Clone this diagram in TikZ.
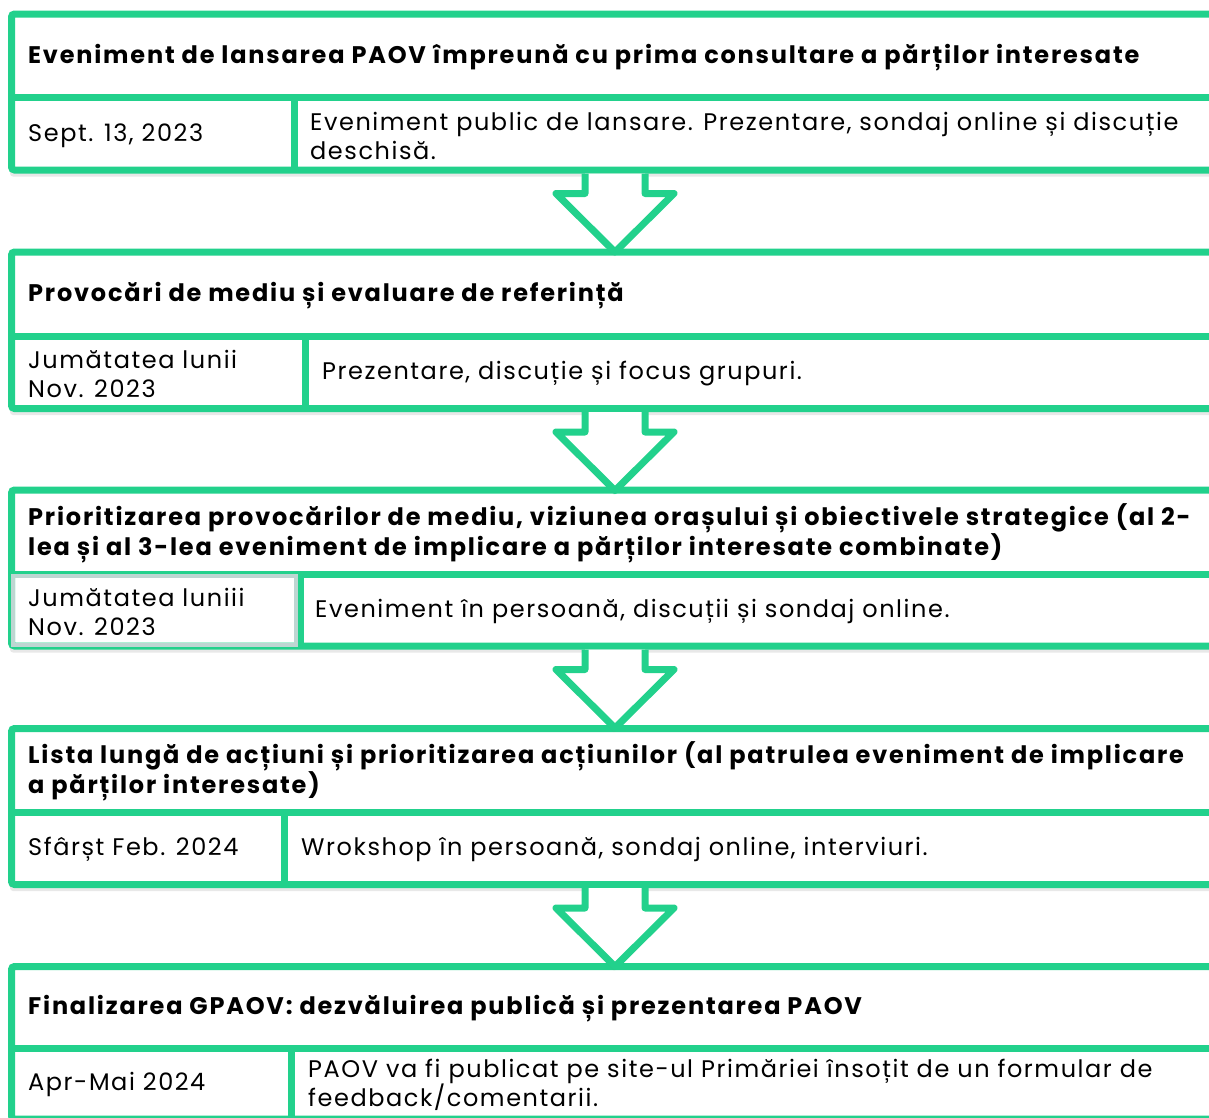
\documentclass[tikz,border=0pt]{standalone}
\usepackage{fontspec}
\setmainfont{Poppins}[LetterSpace=6.5, BoldFeatures={LetterSpace=7.5}]
\usetikzlibrary{shadows}
\definecolor{paovgreen}{RGB}{34,209,140}
\definecolor{cellgray}{RGB}{190,214,210}

\begin{document}
\begin{tikzpicture}[x=1pt, y=-1pt,
        frame/.style={draw=paovgreen, fill=white, line width=7pt, rounded corners=3pt,
            drop shadow={shadow xshift=-1.5pt, shadow yshift=-6.5pt, opacity=.18}},
        rule/.style={draw=paovgreen, line width=7pt},
        title/.style={anchor=west, inner sep=0pt, align=left, font=\bfseries\fontsize{24}{29}\selectfont},
        cell/.style={anchor=west, inner sep=0pt, align=left, font=\fontsize{24}{29}\selectfont},
        downarrow/.style={draw=paovgreen, fill=white, line width=7pt, line join=round,
            drop shadow={shadow xshift=-1pt, shadow yshift=-4pt, opacity=.15}}]
    \useasboundingbox (0,0) rectangle (1209,1117);
    % block 1
    \draw[frame] (11.5,14) rectangle (1240,170);
    \draw[rule] (11.5,97.5) -- ++(1230,0) (294.5,97.5) -- ++(0,72.5);
    \node[title] (title1) at (28,57.5) {Eveniment de lansarea PAOV împreună cu prima consultare a părților interesate};
    \node[cell] (date1) at (28,135.5) {Sept. 13, 2023};
    \node[cell] (desc1) at (310,135.5) {Eveniment public de lansare. Prezentare, sondaj online și discuție\\deschisă.};
    \coordinate (out1) at (615,170);
    % block 2
    \draw[frame] (11.5,252) rectangle (1240,408.5);
    \draw[rule] (11.5,336) -- ++(1230,0) (305.5,336) -- ++(0,72.5);
    \node[title] (title2) at (28,296) {Provocări de mediu și evaluare de referință};
    \node[cell] (date2) at (28,373.5) {Jumătatea lunii\\Nov. 2023};
    \node[cell] (desc2) at (322,373.5) {Prezentare, discuție și focus grupuri.};
    \coordinate (out2) at (615,408.5);
    % block 3
    \draw[frame] (11.5,490) rectangle (1240,646);
    \draw[rule] (11.5,574) -- ++(1230,0) (300,574) -- ++(0,72);
    \draw[cellgray, line width=4pt] (13,575.5) rectangle (296,645);
    \node[title] (title3) at (28,533) {Prioritizarea provocărilor de mediu, viziunea orașului și obiectivele strategice (al 2-\\lea și al 3-lea eveniment de implicare a părților interesate combinate)};
    \node[cell] (date3) at (28,611.5) {Jumătatea luniii\\Nov. 2023};
    \node[cell] (desc3) at (315,611.5) {Eveniment în persoană, discuții și sondaj online.};
    \coordinate (out3) at (615,646);
    % block 4
    \draw[frame] (11.5,728.5) rectangle (1240,884.5);
    \draw[rule] (11.5,812.5) -- ++(1230,0) (284.5,812.5) -- ++(0,72);
    \node[title] (title4) at (28,771.5) {Lista lungă de acțiuni și prioritizarea acțiunilor (al patrulea eveniment de implicare\\a părților interesate)};
    \node[cell] (date4) at (28,849.5) {Sfârșt Feb. 2024};
    \node[cell] (desc4) at (301,849.5) {Wrokshop în persoană, sondaj online, interviuri.};
    \coordinate (out4) at (615,884.5);
    % block 5
    \draw[frame] (11.5,966.5) rectangle (1240,1119);
    \draw[rule] (11.5,1048) -- ++(1230,0) (291.5,1048) -- ++(0,72);
    \node[title] (title5) at (28,1009) {Finalizarea GPAOV: dezvăluirea publică și prezentarea PAOV};
    \node[cell] (date5) at (28,1084.5) {Apr-Mai 2024};
    \node[cell] (desc5) at (308,1084.5) {PAOV va fi publicat pe site-ul Primăriei însoțit de un formular de\\feedback/comentarii.};
    % arrows between the blocks
    \draw[downarrow] ([shift={(-30,3.5)}]out1) |- ++(-29,20) -- ++(59,58.5) -- ++(59,-58.5) -| ([shift={(30,3.5)}]out1);
    \draw[downarrow] ([shift={(-30,3.5)}]out2) |- ++(-29,20) -- ++(59,58.5) -- ++(59,-58.5) -| ([shift={(30,3.5)}]out2);
    \draw[downarrow] ([shift={(-30,3.5)}]out3) |- ++(-29,20) -- ++(59,58.5) -- ++(59,-58.5) -| ([shift={(30,3.5)}]out3);
    \draw[downarrow] ([shift={(-30,3.5)}]out4) |- ++(-29,20) -- ++(59,58.5) -- ++(59,-58.5) -| ([shift={(30,3.5)}]out4);
\end{tikzpicture}
\end{document}
